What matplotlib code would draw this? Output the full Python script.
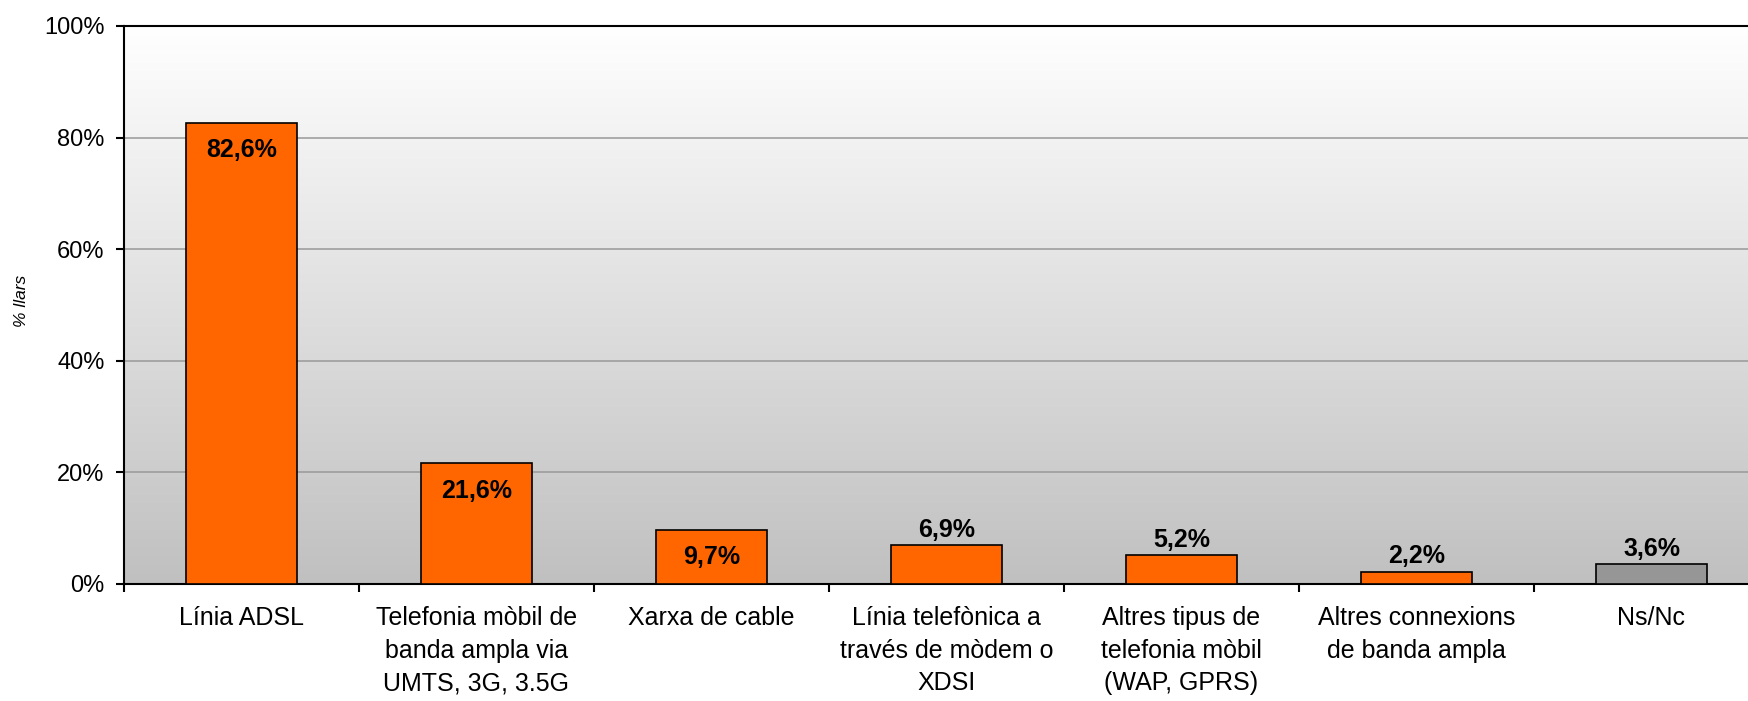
import numpy as np
import matplotlib.pyplot as plt
from matplotlib.colors import LinearSegmentedColormap

plt.rcParams['font.family'] = ['Liberation Sans', 'DejaVu Sans']

categories = ['Línia ADSL',
              'Telefonia mòbil de\nbanda ampla via\nUMTS, 3G, 3.5G',
              'Xarxa de cable',
              'Línia telefònica a\ntravés de mòdem o\nXDSI',
              'Altres tipus de\ntelefonia mòbil\n(WAP, GPRS)',
              'Altres connexions\nde banda ampla',
              'Ns/Nc']
values = [82.6, 21.6, 9.7, 6.9, 5.2, 2.2, 3.6]
labels = ['82,6%', '21,6%', '9,7%', '6,9%', '5,2%', '2,2%', '3,6%']
inside = [True, True, True, False, False, False, False]
colors = ['#FF6600'] * 6 + ['#969696']
yticks = [0, 20, 40, 60, 80, 100]

fig = plt.figure(figsize=(17.49, 7.01), dpi=100)
# plot area runs past the right edge of the image, like the original
ax = fig.add_axes([124 / 1749, 117 / 701, 1645 / 1749, 558 / 701])

x = np.arange(len(categories))

# grey gradient background
grad = LinearSegmentedColormap.from_list('bg', ['#C0C0C0', '#FFFFFF'])
ax.imshow(np.linspace(0, 1, 256).reshape(-1, 1), cmap=grad, origin='lower',
          extent=[-0.5, len(categories) - 0.5, 0, 100], aspect='auto', zorder=0)

for t in yticks[1:-1]:
    ax.axhline(t, color='#999999', lw=1.1, zorder=1)

ax.bar(x, values, width=0.47, color=colors, edgecolor='black', linewidth=1.2, zorder=3)

for xi, v, lab, ins in zip(x, values, labels, inside):
    off = -19.5 if ins else 11
    ax.annotate(lab, (xi, v), xytext=(0, off), textcoords='offset points',
                ha='center', va='center', fontsize=18, fontweight='bold', zorder=4)

ax.set_xlim(-0.5, len(categories) - 0.5)
ax.set_ylim(0, 100)
ax.set_yticks(yticks)
ax.set_yticklabels([f'{t}%' for t in yticks], fontsize=17)
ax.set_xticks(x)
ax.set_xticklabels(categories, fontsize=18, linespacing=1.45)
ax.set_xticks(np.arange(len(categories) + 1) - 0.5, minor=True)
ax.tick_params(axis='x', which='major', length=0, pad=16)
ax.tick_params(axis='x', which='minor', length=6, width=1.5, direction='out')
ax.tick_params(axis='y', length=6, width=1.5, direction='out', pad=8)

for s in ['left', 'bottom', 'top']:
    ax.spines[s].set_linewidth(1.5)
    ax.spines[s].set_color('black')
ax.spines['right'].set_visible(False)

fig.text(22 / 1749, 1 - 301 / 701, '% llars', rotation=90, fontsize=12.5,
         style='italic', ha='center', va='center')

fig.savefig('out.png', dpi=100)
